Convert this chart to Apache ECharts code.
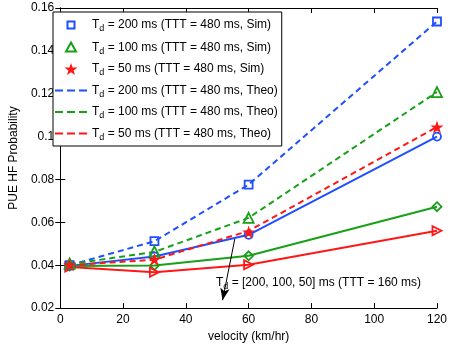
<!DOCTYPE html>
<html>
<head>
<meta charset="utf-8">
<script src="https://cdn.jsdelivr.net/npm/echarts@6/dist/echarts.min.js"></script>
<style>
  html, body { margin: 0; padding: 0; background: #fff; }
  #chart { width: 450px; height: 348px; }
</style>
</head>
<body>
<div id="chart"></div>
<script>
// velocities (km/hr)
var velocity = [3, 30, 60, 120]

// TTT = 480 ms, simulation
var sim200 = [0.0400, 0.0512, 0.0776, 0.1537]
var sim100 = [0.0408, 0.0465, 0.0621, 0.1208]
var sim50 = [0.0402, 0.0428, 0.0555, 0.1045]
// TTT = 480 ms, theory
var theo200 = [0.0400, 0.0512, 0.0776, 0.1537]
var theo100 = [0.0405, 0.0462, 0.0621, 0.1208]
var theo50 = [0.0400, 0.0426, 0.0560, 0.1045]
// TTT = 160 ms
var low200 = [0.0397, 0.0441, 0.0542, 0.1000]
var low100 = [0.0396, 0.0399, 0.0444, 0.0673]
var low50 = [0.0392, 0.0367, 0.0402, 0.0561]

var legendNames = [
  'T{sub|d} = 200 ms (TTT = 480 ms, Sim)',
  'T{sub|d} = 100 ms (TTT = 480 ms, Sim)',
  'T{sub|d} = 50 ms (TTT = 480 ms, Sim)',
  'T{sub|d} = 200 ms (TTT = 480 ms, Theo)',
  'T{sub|d} = 100 ms (TTT = 480 ms, Theo)',
  'T{sub|d} = 50 ms (TTT = 480 ms, Theo)'
]

var blue = '#1f4fff'
var green = '#18a018'
var red = '#ff1717'
var font = 'Liberation Sans, Arial, sans-serif'
var star = 'path://M50,0 L61.8,35.3 L99,35.3 L68.9,57.1 L80.4,92.6 L50,70.7 L19.6,92.6 L31.1,57.1 L1,35.3 L38.2,35.3 Z'

// legend icons, drawn in a 32x12 box (the two moves fix the box size)
var box = 'path://M0,0 M32,12 '
var iconSquare = box + 'M12.5,2.5 L19.5,2.5 L19.5,9.5 L12.5,9.5 Z'
var iconTriangle = box + 'M16,1 L21,10 L11,10 Z'
var iconStar = box + 'M16,0 L17.6,4.6 L22.5,4.6 L18.6,7.5 L20,12 L16,9.3 L12,12 L13.4,7.5 L9.5,4.6 L14.4,4.6 Z'
var iconDash = box + 'M0,5 L8,5 L8,7 L0,7 Z M12,5 L20,5 L20,7 L12,7 Z M24,5 L32,5 L32,7 L24,7 Z'

function pairs (ys) {
  return velocity.map(function (v, i) { return [v, ys[i]] })
}

function simSeries (name, ys, color, symbol, size, filled) {
  return {
    name: name,
    type: 'scatter',
    data: pairs(ys),
    symbol: symbol,
    symbolSize: size,
    z: 5,
    itemStyle: {
      color: filled ? color : 'rgba(0,0,0,0)',
      borderColor: color,
      borderWidth: filled ? 0 : 1.8,
      opacity: 1
    }
  }
}

function theoSeries (name, ys, color) {
  return {
    name: name,
    type: 'line',
    data: pairs(ys),
    showSymbol: false,
    symbol: 'none',
    lineStyle: { color: color, width: 2, type: [6, 4] },
    itemStyle: { color: color }
  }
}

function lowSeries (name, ys, color, symbol, size, rotate) {
  return {
    name: name,
    type: 'line',
    data: pairs(ys),
    symbol: symbol,
    symbolSize: size,
    symbolRotate: rotate || 0,
    showAllSymbol: true,
    clip: false,
    z: 3,
    lineStyle: { color: color, width: 2 },
    itemStyle: { color: 'rgba(0,0,0,0)', borderColor: color, borderWidth: 1.8 }
  }
}

var chart = echarts.init(document.getElementById('chart'))

var axisCommon = {
  axisLine: { show: true, lineStyle: { color: '#000', width: 1 } },
  axisTick: { show: true, inside: true, length: 5, lineStyle: { color: '#000' } },
  splitLine: { show: false }
}

var legendIcons = [iconSquare, iconTriangle, iconStar, iconDash, iconDash, iconDash]

var option = {
  animation: false,
  backgroundColor: '#fff',
  grid: { left: 45, right: 13, top: 8, bottom: 32 },
  xAxis: [
    Object.assign({
      type: 'value', min: 0, max: 120, interval: 20,
      name: 'velocity (km/hr)', nameLocation: 'middle', nameGap: 20,
      nameTextStyle: { color: '#000', fontSize: 12, fontFamily: font },
      axisLabel: { color: '#000', fontSize: 12, fontFamily: font, margin: 6 }
    }, axisCommon),
    Object.assign({
      type: 'value', min: 0, max: 120, interval: 20, position: 'top',
      axisLabel: { show: false }
    }, axisCommon)
  ],
  yAxis: [
    Object.assign({
      type: 'value', min: 0.02, max: 0.16, interval: 0.02,
      name: 'PUE HF Probability', nameLocation: 'middle', nameGap: 33,
      nameTextStyle: { color: '#000', fontSize: 12, fontFamily: font },
      axisLabel: {
        color: '#000', fontSize: 12, fontFamily: font, margin: 6,
        formatter: function (v) { return String(parseFloat(v.toFixed(2))) }
      }
    }, axisCommon),
    Object.assign({
      type: 'value', min: 0.02, max: 0.16, interval: 0.02, position: 'right',
      axisLabel: { show: false }
    }, axisCommon)
  ],
  legend: {
    data: legendNames.map(function (n, i) { return { name: n, icon: legendIcons[i] } }),
    orient: 'vertical',
    left: 53,
    top: 12,
    padding: [6, 4, 4, 1],
    itemGap: 7,
    itemWidth: 32,
    itemHeight: 12,
    backgroundColor: '#fff',
    borderColor: '#000',
    borderWidth: 1,
    textStyle: {
      color: '#000', fontSize: 12, fontFamily: font,
      rich: {
        sub: { fontSize: 9, verticalAlign: 'bottom', padding: [8, 0, 0, 0], fontFamily: font, color: '#000' }
      }
    }
  },
  graphic: [
    {
      type: 'text',
      left: 216,
      top: 277,
      style: {
        text: 'T{sub|d} = [200, 100, 50] ms (TTT = 160 ms)',
        fill: '#000',
        font: '12px ' + font,
        rich: {
          sub: { fontSize: 9, verticalAlign: 'bottom', padding: [8, 0, 0, 0], fontFamily: font, fill: '#000' }
        }
      }
    }
  ],
  series: [
    lowSeries('low200', low200, blue, 'circle', 8),
    lowSeries('low100', low100, green, 'diamond', 9),
    lowSeries('low50', low50, red, 'triangle', 9, -90),
    theoSeries(legendNames[3], theo200, blue),
    theoSeries(legendNames[4], theo100, green),
    theoSeries(legendNames[5], theo50, red),
    simSeries(legendNames[0], sim200, blue, 'rect', 8, false),
    simSeries(legendNames[1], sim100, green, 'triangle', 10, false),
    simSeries(legendNames[2], sim50, red, star, 13, true),
    {
      name: 'arrow',
      type: 'line',
      data: [],
      markLine: {
        silent: true,
        symbol: ['none', 'arrow'],
        symbolSize: [7, 12],
        label: { show: false },
        lineStyle: { color: '#000', width: 1, type: 'solid' },
        data: [[{ coord: [55.6, 0.0523] }, { coord: [51.7, 0.0237] }]]
      }
    }
  ]
}

chart.setOption(option)
</script>
</body>
</html>
